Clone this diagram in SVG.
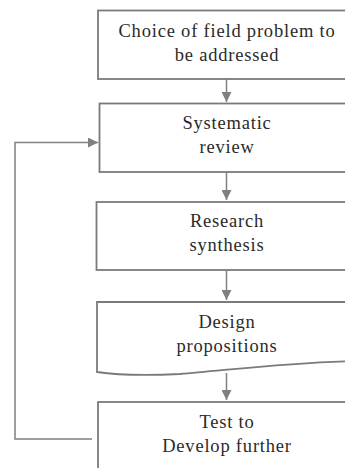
<svg xmlns="http://www.w3.org/2000/svg" width="345" height="468" viewBox="0 0 345 468">
<defs>
<style>
.box{fill:#fff;stroke:#7a7a7a;stroke-width:1.8}
.t{font-family:'Liberation Serif','Times New Roman',serif;font-size:18.5px;letter-spacing:0.8px;fill:#2a2a2a;text-anchor:middle}
.c{fill:none;stroke:#808080;stroke-width:1.5}
</style>
<marker id="ah" viewBox="0 0 10 10" refX="10" refY="5" markerWidth="10" markerHeight="10" markerUnits="userSpaceOnUse" orient="auto">
<path d="M0,0 L10,5 L0,10 Z" fill="#808080"/>
</marker>
</defs>
<rect width="345" height="468" fill="#fff"/>
<g id="connectors">
<line class="c" x1="226.5" y1="79" x2="226.5" y2="102" marker-end="url(#ah)"/>
<line class="c" x1="226.5" y1="172" x2="226.5" y2="200" marker-end="url(#ah)"/>
<line class="c" x1="226.5" y1="271" x2="226.5" y2="300" marker-end="url(#ah)"/>
<line class="c" x1="226.5" y1="373" x2="226.5" y2="400" marker-end="url(#ah)"/>
<path class="c" d="M92,439 H15 V142.5 H98" marker-end="url(#ah)"/>
</g>
<g id="n1">
<rect class="box" x="98" y="10.5" width="260" height="68.5"/>
<text class="t" x="227" y="37">Choice of field problem to</text>
<text class="t" x="227" y="61">be addressed</text>
</g>
<g id="n2">
<rect class="box" x="99.5" y="103.5" width="260" height="68.5"/>
<text class="t" x="227" y="129">Systematic</text>
<text class="t" x="227" y="153">review</text>
</g>
<g id="n3">
<rect class="box" x="96.5" y="202" width="260" height="68"/>
<text class="t" x="227" y="227">Research</text>
<text class="t" x="227" y="251">synthesis</text>
</g>
<g id="n4">
<path class="box" d="M97,302 H358 V361 C290,362 230,370 180,374 C140,376 110,374 97,372 Z"/>
<text class="t" x="227" y="328">Design</text>
<text class="t" x="227" y="352">propositions</text>
</g>
<g id="n5">
<rect class="box" x="98" y="402" width="260" height="80"/>
<text class="t" x="227" y="428">Test to</text>
<text class="t" x="227" y="452">Develop further</text>
</g>
</svg>
